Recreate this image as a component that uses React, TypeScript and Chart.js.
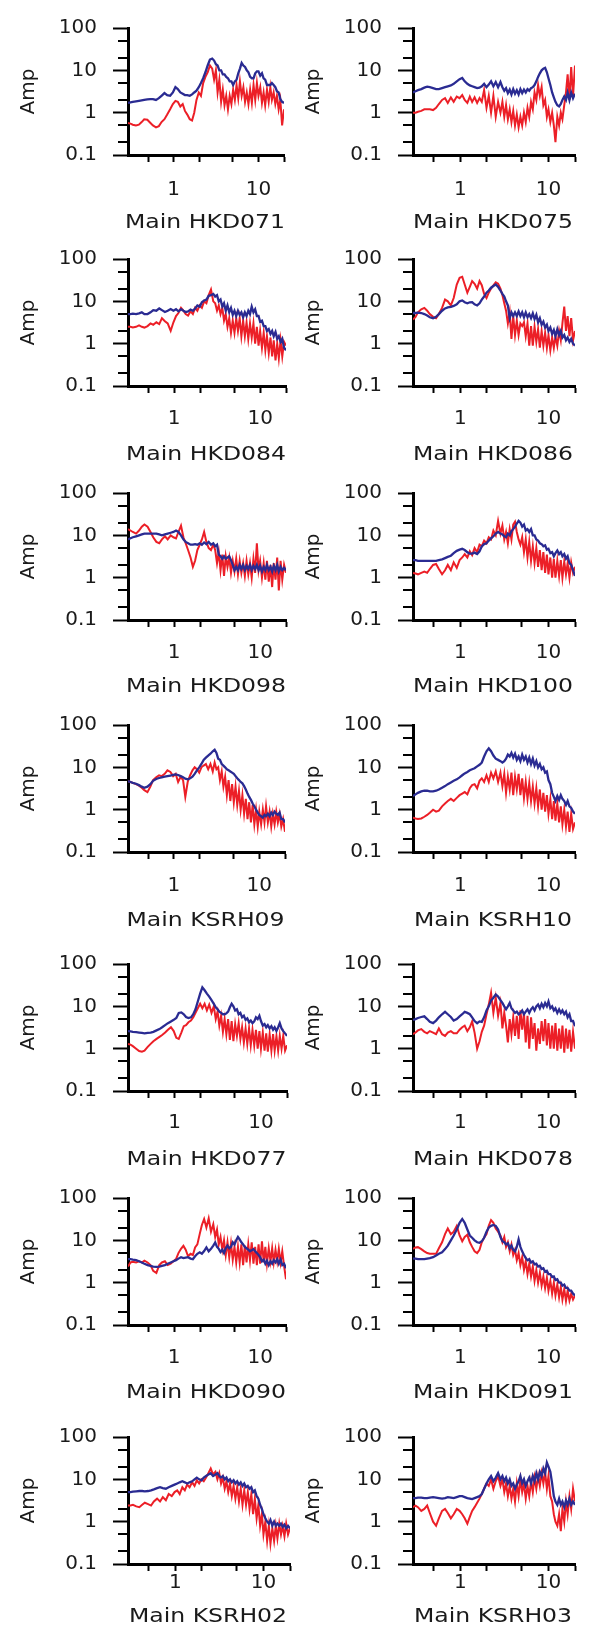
import React, { useEffect, useRef } from "react";
import { Chart, registerables } from "chart.js";
Chart.register(...registerables);

// ---------- data ----------
const FREQ = [
  0.29, 0.31, 0.33, 0.36, 0.39, 0.42, 0.45, 0.49, 0.53, 0.57, 0.62, 0.67, 0.72, 0.78, 0.84, 0.91, 0.98,
  1.05, 1.12, 1.2, 1.28, 1.36, 1.45, 1.55, 1.65, 1.75, 1.86, 1.98, 2.1, 2.23, 2.37, 2.52, 2.68, 2.85,
  3.0, 3.15, 3.3, 3.46, 3.63, 3.8, 3.98, 4.17, 4.37, 4.58, 4.8, 5.03, 5.27, 5.52, 5.78, 6.05, 6.34, 6.64, 6.95, 7.28,
  7.62, 7.98, 8.36, 8.75, 9.16, 9.59, 10, 10.5, 11, 11.5, 12, 12.6, 13.2, 13.8, 14.4, 15.1, 15.8, 16.5, 17.3, 18.1, 19, 20,
];

const Y_TICKS = [0.1, 1, 10, 100];
const Y_MINOR = [0.2, 0.5, 2, 5, 20, 50];
const X_TICKS = [0.5, 1, 2, 5, 10, 20];
const X_LABELED = [1, 10];

const HKD071_BLUE = [
  1.7, 1.75, 1.8, 1.85, 1.9, 1.95, 2.0, 2.05, 2.1, 2.1, 2.0, 2.2, 2.5, 2.9, 2.6, 2.5, 3.0,
  4.0, 3.6, 3.0, 2.8, 2.6, 2.6, 2.5, 2.7, 3.0, 3.3, 4.0, 5.0, 6.5, 9, 13, 18, 19,
  17, 14, 13, 10, 10, 8, 8, 7, 6.5, 5.5, 5.5, 4.5, 5.5, 6, 8.5, 11, 15, 13, 12, 10,
  9, 7, 6.5, 6.5, 8.5, 9.5, 9.5, 7.5, 8.5, 6.5, 6, 4.5, 4.5, 4.5, 5, 4.5, 4, 3.2, 3, 2.1, 1.8, 1.7,
];
const HKD071_RED = [
  0.57, 0.55, 0.52, 0.5, 0.52, 0.6, 0.7, 0.68, 0.58, 0.5, 0.45, 0.48, 0.6, 0.7, 0.9, 1.2, 1.6,
  1.9, 1.8, 1.4, 1.6, 1.1, 0.9, 0.7, 0.65, 1.0, 2.0, 3.0, 2.5, 5, 7, 9, 13, 11,
  6, 10, 3, 6, 1.8, 3.5, 1.5, 2.5, 1.2, 2.5, 1.6, 3.5, 2, 4.5, 2.2, 5.5, 2.5, 4, 1.8, 3,
  1.6, 3.5, 1.7, 4.5, 2, 5, 2.5, 4, 1.7, 3, 1.5, 3.5, 1.8, 4, 2, 3, 1.6, 2.5, 1.2, 2, 0.5, 1.2,
];

const HKD075_BLUE = [
  3.0, 3.2, 3.4, 3.6, 3.9, 4.1, 4.0, 3.8, 3.6, 3.6, 3.8, 4.0, 4.2, 4.4, 4.8, 5.5, 6.2,
  6.6, 5.5, 4.8, 4.4, 4.2, 4.0, 3.8, 3.9, 4.2, 4.8, 4.0, 4.6, 5.5, 4.2, 5.3, 4.0, 5.3,
  4.0, 3.3, 3.8, 2.9, 3.5, 2.7, 3.6, 2.8, 3.4, 2.7, 3.6, 2.9, 3.5, 3.0, 3.6, 3.3, 3.8, 4.0, 4.5, 5.5,
  7, 8.5, 10, 11, 11.5, 9, 6.5, 4.5, 3, 2.3, 1.8, 1.5, 1.4, 1.6, 2.0, 2.4, 2.0, 3.0, 2.0, 3.0, 2.2, 2.8,
];
const HKD075_RED = [
  1.0, 1.0, 1.05, 1.1, 1.2, 1.2, 1.2, 1.15, 1.3, 1.6, 2.0, 2.2, 1.7, 2.3, 1.8, 2.4, 2.2,
  2.6, 2.0, 1.7, 2.4, 1.8, 2.3, 1.7, 2.2, 1.8, 3.4, 1.3, 2.5, 1.0, 2.5, 0.8, 1.8, 1.0,
  1.8, 0.8, 1.5, 0.7, 1.2, 0.6, 1.1, 0.5, 0.9, 0.45, 0.8, 0.5, 1.0, 0.6, 1.3, 0.8, 1.8, 1.2, 3.0, 2.0,
  4.5, 2.5, 4.0, 1.5, 2.0, 0.8, 1.2, 0.6, 1.0, 0.5, 0.2, 0.8, 0.5, 1.0, 0.7, 1.5, 3, 8, 2, 12, 2.5, 13,
];

const HKD084_BLUE = [
  5.0, 5.0, 5.1, 5.0, 5.2, 5.5, 5.0, 5.0, 5.5, 6.2, 6.0, 6.8, 6.2, 5.6, 6.0, 6.6, 6.0,
  6.5, 5.8, 6.5, 6.0, 5.6, 5.8, 6.4, 6.0, 6.8, 8, 7.5, 9.5, 10.5, 11, 13.5, 14, 15,
  13, 14, 10, 11, 7.5, 9, 6, 8, 5.5, 7, 4.8, 6, 4.5, 6, 4.8, 5.5, 4.2, 5.5, 4.5, 6,
  5, 7.5, 5.5, 6.5, 4.5, 4.5, 3.3, 3.5, 2.6, 2.6, 2.0, 2.2, 1.7, 2.0, 1.5, 1.9, 1.3, 1.5, 1.1, 1.3, 0.8, 0.7,
];
const HKD084_RED = [
  2.5, 2.5, 2.4, 2.5, 2.7, 2.5, 2.4, 2.6, 3.0, 2.8, 3.2, 2.9, 4.0, 3.4, 3.0, 2.0, 3.2,
  4.5, 5.3, 7, 6, 5, 4.6, 5.8, 5, 7, 6, 8, 7, 10, 9, 14, 19, 10,
  9, 6, 8, 5, 7, 3.5, 5, 2.5, 4, 1.8, 3.5, 1.8, 4, 2, 4, 1.5, 3.5, 1.5, 3.2, 1.3,
  3.0, 1.4, 3.0, 1.0, 2.5, 0.9, 2.0, 0.8, 1.8, 0.7, 1.5, 0.6, 1.4, 0.5, 1.2, 0.4, 1.0, 0.45, 1.2, 0.5, 1.1, 0.9,
];

const HKD086_BLUE = [
  5.3, 5.3, 5.4, 5.3, 5.0, 4.6, 4.2, 4.0, 4.3, 5.0, 6.0, 6.8, 7.2, 7.4, 7.8, 8.5, 10,
  10.5, 9.5, 9, 9.5, 9.6, 8.5, 8, 9, 11, 13, 16, 18, 21, 23, 25, 22, 18,
  15, 13, 10, 8, 4, 5.5, 4.5, 5.5, 4.5, 5.8, 4.5, 5.5, 4.2, 5.5, 4.2, 5.0, 4.0, 5.2, 3.8, 4.8,
  3.2, 4.0, 2.8, 3.3, 2.4, 2.8, 2.0, 2.4, 1.7, 2.1, 1.5, 2.2, 1.6, 2.0, 1.4, 1.6, 1.2, 1.4, 1.1, 1.3, 1.0, 0.9,
];
const HKD086_RED = [
  3.7, 4.3, 5.5, 6.5, 7, 6, 5, 4.3, 4.0, 5, 7, 11, 10, 8, 12, 25, 36,
  38, 25, 16, 22, 30, 26, 20, 30, 24, 15, 12, 16, 20, 24, 28, 26, 20,
  14, 9, 6, 3, 5.5, 1.3, 4.5, 1.6, 3.5, 1.6, 3, 2.6, 3.2, 1.5, 3, 0.9, 2.6, 0.9, 2.5, 1.1,
  2.2, 0.8, 2, 0.9, 1.8, 0.8, 1.6, 0.7, 1.4, 0.8, 1.5, 0.9, 2, 1.2, 3, 7.5, 2, 4.5, 1.5, 4, 1.2, 2,
];

const HKD098_BLUE = [
  8, 8.5, 9, 9.5, 10, 10.5, 11, 11, 11, 11, 11, 10.5, 10, 10.5, 11, 11.5, 12,
  13, 12, 10, 8, 7, 6.5, 6, 6, 6.2, 6, 6.5, 6, 6.8, 6.2, 7, 6, 6.5,
  5.5, 6, 3.5, 3.2, 2.8, 3.2, 2.8, 3.0, 3.2, 2.6, 2.0, 1.5, 1.8, 1.5, 2.0, 1.6, 2.0, 1.5, 1.9, 1.6,
  2.0, 1.5, 1.9, 1.6, 2.0, 1.5, 1.9, 1.4, 1.8, 1.5, 2.0, 1.5, 1.8, 1.4, 1.9, 1.5, 2.0, 1.4, 1.8, 1.5, 1.7, 1.5,
];
const HKD098_RED = [
  14, 13, 12, 11, 13, 16, 18, 16, 12, 9, 7, 6.5, 8, 9.5, 8, 10, 9,
  8.5, 12, 17, 9, 6.5, 4.5, 3, 1.8, 2.5, 4.5, 6, 8, 12, 7, 5, 4.5, 6,
  4.5, 2.2, 4, 1.5, 3.5, 1.1, 3.2, 1.8, 3, 1.3, 2.5, 1.4, 2.8, 1.2, 2.5, 1.3, 2.2, 1.1, 2.5, 1.2,
  2.2, 1.0, 2.8, 1.3, 6.5, 1.5, 2.5, 1.0, 2.2, 0.9, 2.5, 0.8, 2.0, 0.6, 2.2, 0.9, 3, 0.5, 2.5, 0.9, 2.0, 1.3,
];

const HKD100_BLUE = [
  2.6, 2.6, 2.5, 2.5, 2.5, 2.5, 2.5, 2.5, 2.5, 2.6, 2.7, 2.9, 3.1, 3.3, 3.8, 4.3, 4.6,
  4.8, 4.5, 4.0, 3.7, 3.7, 3.9, 3.6, 4.2, 5.5, 6.2, 6.5, 7.5, 8.5, 9.5, 11, 12, 11,
  10.5, 9.5, 9, 11, 10, 12.5, 14, 16, 19, 22, 20, 16, 18, 13, 14, 12, 14, 10, 10, 8,
  7.5, 6.5, 6.2, 5.5, 5.8, 4.6, 4.8, 3.8, 4.0, 3.2, 3.8, 4.4, 3.6, 4.0, 3.2, 3.6, 2.8, 3.2, 2.2, 2.0, 1.5, 1.1,
];
const HKD100_RED = [
  1.3, 1.25, 1.2, 1.3, 1.4, 1.3, 1.6, 2.0, 2.1, 1.6, 1.2, 1.5, 2.0, 1.5, 2.3, 1.7, 2.6,
  3.0, 3.6, 3.0, 4.2, 3.4, 5.0, 4.0, 6.0, 5.5, 7.5, 6.5, 9, 8, 13, 10, 22, 11,
  17, 8, 12, 6.5, 14, 8, 18, 21, 12, 8, 6, 9, 4, 8, 3, 7, 2.5, 5.5, 2.2, 5,
  1.8, 4.5, 1.5, 4, 1.3, 3.5, 1.2, 3, 1.0, 2.8, 1.0, 2.5, 1.1, 2.6, 1.0, 2.4, 1.2, 2.2, 1.0, 2.3, 1.3, 1.8,
];

const KSRH09_BLUE = [
  4.7, 4.5, 4.3, 4.1, 3.8, 3.5, 3.3, 3.5, 4.0, 4.8, 5.3, 5.6, 5.8, 6.0, 6.2, 6.4, 6.6,
  6.8, 6.6, 6.2, 5.8, 5.4, 5.2, 5.5, 6.0, 7.0, 8.5, 10, 12, 15, 17, 19, 21, 24,
  26, 22, 16, 15, 12, 11, 10, 9, 8.5, 8, 7.5, 7, 6.2, 5.5, 5.0, 4.5, 4.2, 3.6, 3.0, 2.4,
  2.0, 1.7, 1.4, 1.2, 1.0, 0.85, 0.75, 0.7, 0.65, 0.75, 0.7, 0.8, 0.7, 0.85, 0.75, 0.9, 0.8, 0.75, 0.85, 0.6, 0.6, 0.5,
];
const KSRH09_RED = [
  4.7, 4.5, 4.3, 4.0, 3.7, 3.3, 2.9, 2.6, 3.5, 5.0, 5.8, 6.5, 6.2, 7, 8.5, 7.8, 6.2,
  7, 4.5, 6, 5, 2.0, 4.5, 6.5, 8.5, 10, 9, 7.5, 10, 11, 12, 9, 12, 8,
  13, 9, 10, 5, 8, 3.5, 6, 2.2, 5, 1.6, 4, 1.5, 3.5, 1.3, 2.8, 1.0, 2.2, 0.8, 1.8, 0.6,
  1.5, 0.5, 1.3, 0.45, 1.0, 0.4, 0.9, 0.45, 1.0, 0.5, 1.2, 0.5, 0.9, 0.4, 0.8, 0.45, 0.9, 0.5, 0.8, 0.4, 0.6, 0.3,
];

const KSRH10_BLUE = [
  2.1, 2.3, 2.5, 2.7, 2.8, 2.8, 2.7, 2.7, 2.8, 3.0, 3.3, 3.6, 4.0, 4.4, 4.8, 5.2, 5.8,
  6.5, 7.2, 7.8, 8.5, 9, 9.5, 10.5, 11.5, 13, 18, 24, 28, 24, 19, 16, 15, 14,
  13, 14, 16, 20, 18, 22, 17, 21, 15, 18, 14, 20, 15, 18, 13, 17, 12, 16, 11, 14,
  10, 12, 9, 10, 7.5, 8, 5, 4, 2.5, 2.0, 1.6, 2.1, 1.7, 2.2, 1.8, 1.6, 1.3, 1.6, 1.2, 1.1, 0.9, 0.8,
];
const KSRH10_RED = [
  0.65, 0.62, 0.6, 0.62, 0.68, 0.75, 0.85, 1.0, 0.9, 0.95, 1.2, 1.4, 1.6, 1.8, 1.6, 1.9, 2.2,
  2.4, 2.6, 2.3, 3.2, 3.8, 4.0, 3.2, 4.8, 5.5, 4.5, 6.5, 4.5, 7.5, 5.5, 8, 4.5, 7.5,
  3.6, 7, 2.5, 6, 3, 7.5, 2.2, 6, 3, 7, 2.2, 5.5, 1.9, 4.5, 1.8, 4.2, 1.6, 3.5, 1.4, 3.2,
  1.2, 3.0, 1.0, 2.5, 0.9, 2.2, 0.8, 1.8, 0.6, 1.6, 0.55, 1.4, 0.5, 1.2, 0.45, 1.0, 0.4, 0.9, 0.3, 0.8, 0.35, 0.5,
];

const HKD077_BLUE = [
  2.6, 2.55, 2.5, 2.45, 2.4, 2.35, 2.3, 2.35, 2.4, 2.5, 2.7, 2.9, 3.2, 3.6, 4.0, 4.4, 4.8,
  5.3, 7, 7.2, 6.5, 5.6, 5.3, 5.5, 6.5, 8.5, 13, 20, 28, 24, 20, 17, 14, 11.5,
  9.5, 8.5, 7.5, 7, 6.5, 6.5, 6.8, 7.5, 9.5, 11.5, 10, 8, 8.5, 6.5, 7, 5.5, 6, 4.8, 5.2, 4.2,
  4.6, 4.0, 4.4, 5.5, 5.0, 6.0, 4.5, 3.5, 3.8, 3.2, 3.6, 3.0, 3.4, 2.8, 3.2, 2.6, 3.2, 4.0, 3.0, 2.6, 2.3, 2.0,
];
const HKD077_RED = [
  1.3, 1.25, 1.15, 1.0, 0.88, 0.85, 0.9, 1.1, 1.3, 1.5, 1.7, 1.9, 2.1, 2.4, 2.8, 3.2, 2.6,
  1.8, 1.7, 2.4, 3.4, 3.6, 4.2, 4.6, 5.5, 7, 9, 11.5, 9, 11.5, 8, 11, 7, 10,
  5, 7.5, 3.5, 6, 2.5, 5, 2.2, 5, 1.6, 4.5, 1.5, 3.8, 2.0, 4, 1.7, 3.2, 1.4, 3, 1.3, 3,
  1.2, 2.8, 1.2, 2.8, 1.0, 2.6, 1.0, 2.4, 0.9, 2.3, 0.85, 2.2, 0.9, 2.2, 0.9, 2.0, 0.9, 2.0, 1.0, 2.0, 0.9, 1.2,
];

const HKD078_BLUE = [
  4.8, 5.0, 5.3, 5.6, 5.8, 5.0, 4.3, 4.0, 4.6, 5.5, 6.5, 7.4, 6.5, 5.6, 4.6, 5.0, 5.8,
  6.5, 7.4, 7.0, 6.5, 5.5, 4.5, 4.0, 4.4, 4.3, 5.5, 8, 10, 13.7, 16, 19, 17, 14,
  12, 10, 8.5, 10, 12, 9, 8, 7, 7.5, 6.5, 7, 8, 6.5, 7.5, 8.5, 7, 8.5, 9.5, 8, 10,
  11, 9, 11.5, 9.5, 12, 10, 13, 9, 10, 8, 9, 7, 8.5, 7, 8, 6.5, 7.5, 5.5, 6.5, 4.5, 4.5, 3.4,
];
const HKD078_RED = [
  2.2, 2.4, 2.7, 2.9, 2.5, 2.3, 2.6, 2.4, 2.2, 3.0, 2.2, 2.0, 2.4, 2.6, 2.3, 2.3, 2.8,
  3.2, 3.5, 2.6, 3.2, 4.4, 2.4, 1.0, 1.5, 2.5, 3.5, 6.5, 11, 21, 7, 16, 6, 12,
  3.0, 7, 3.5, 1.4, 5, 2.2, 5.5, 2, 6, 1.7, 8, 2.8, 7, 1.4, 6, 1.0, 5.5, 1.7, 4, 0.9,
  3, 1.3, 4.5, 1.5, 5, 1.2, 4, 1.0, 3.5, 1.0, 4.0, 0.9, 3.0, 1.0, 3.5, 0.8, 3.0, 1.0, 2.8, 0.85, 2.5, 1.0,
];

const HKD090_BLUE = [
  3.6, 3.6, 3.5, 3.4, 3.2, 3.0, 2.8, 2.6, 2.5, 2.4, 2.35, 2.4, 2.5, 2.6, 2.8, 3.0, 3.2,
  3.4, 3.7, 4.0, 3.8, 3.9, 4.0, 3.7, 3.6, 4.2, 4.8, 5.2, 4.8, 5.6, 6.8, 5.5, 6.3, 7.5,
  8.9, 7, 6.3, 5.3, 6, 5.0, 6.5, 7.5, 6.5, 7, 9, 8, 10, 12, 10.5, 9, 8, 7, 6.5, 6,
  5.5, 5.8, 6.2, 5.5, 5.0, 4.5, 4.0, 3.2, 3.5, 2.8, 3.3, 2.6, 3.2, 2.8, 3.4, 3.0, 3.6, 2.8, 3.5, 2.6, 2.8, 2.2,
];
const HKD090_RED = [
  2.4, 3.0, 3.1, 3.0, 3.2, 3.0, 3.3, 3.0, 2.6, 1.9, 1.7, 2.6, 3.0, 3.2, 2.6, 2.8, 3.2,
  3.6, 5, 6.3, 7.4, 6, 4.2, 4.8, 4.5, 6.8, 8, 14, 23, 32, 20, 33, 16, 24,
  12, 18, 8, 12, 6, 10, 4.5, 9, 4, 8.5, 3.5, 7, 3, 7, 3, 8, 2.6, 7.5, 3, 8,
  3.4, 9, 2.8, 7, 2.6, 8, 2.8, 9.5, 3, 7, 2.8, 6.5, 3.2, 6.5, 3.0, 6, 3.2, 6.3, 3.0, 5.5, 2.5, 1.2,
];

const HKD091_BLUE = [
  3.7, 3.7, 3.6, 3.6, 3.6, 3.7, 3.8, 4.0, 4.4, 4.8, 5.2, 6.2, 7.5, 10, 13, 18, 26,
  32, 26, 18, 13, 11.5, 10, 9, 8.8, 9.5, 11.5, 16, 20, 22, 23, 22, 18, 12,
  9.5, 9, 8, 8.5, 6.5, 7.5, 6, 5.5, 7, 10.5, 7, 5.5, 4.5, 3.8, 3.4, 3.6, 3.0, 3.2, 2.7, 2.8,
  2.4, 2.5, 2.1, 2.2, 1.8, 1.9, 1.6, 1.6, 1.35, 1.4, 1.15, 1.2, 1.0, 1.0, 0.85, 0.9, 0.75, 0.75, 0.65, 0.65, 0.55, 0.5,
];
const HKD091_RED = [
  6.3, 6.8, 6.9, 6.2, 5.5, 5, 4.8, 4.8, 4.8, 6.5, 9, 14, 19, 14, 16, 22, 13,
  9.5, 12, 13.5, 9, 7, 5.5, 5, 6, 9, 11.5, 14, 22, 30, 26, 19, 16, 13,
  9, 12, 7, 9, 5.5, 8, 4.5, 6, 3.4, 5, 2.6, 4, 2.0, 3.2, 1.6, 2.8, 1.4, 2.4, 1.1, 2.0,
  1.0, 1.7, 0.85, 1.4, 0.75, 1.3, 0.65, 1.1, 0.55, 1.0, 0.5, 0.9, 0.45, 0.8, 0.4, 0.7, 0.37, 0.65, 0.38, 0.55, 0.4, 0.5,
];

const KSRH02_BLUE = [
  5.0, 5.0, 5.1, 5.2, 5.3, 5.3, 5.2, 5.3, 5.5, 5.8, 6.2, 6.5, 6.2, 6.0, 6.5, 7.0, 7.5,
  8, 8.5, 9, 8.5, 8, 8.5, 9, 10, 11, 10, 9.5, 11, 12, 13, 14, 12, 13,
  14, 12, 11, 12, 10, 11, 9, 10, 8.5, 9.5, 8, 9, 7.5, 8.5, 7, 8, 6.5, 7, 6, 6.5,
  5, 5.5, 4, 3.5, 2.5, 2, 1.5, 1.2, 1.0, 0.9, 1.1, 0.8, 1.0, 0.8, 0.9, 0.8, 0.9, 0.75, 0.85, 0.7, 0.8, 0.7,
];
const KSRH02_RED = [
  2.4, 2.4, 2.5, 2.3, 2.2, 2.5, 2.8, 2.6, 2.4, 3.0, 3.5, 3.0, 3.8, 3.2, 4.5, 4.0, 5.0,
  5.5, 4.5, 6.5, 5.5, 7.5, 6.5, 8.5, 7, 9.5, 8, 10, 9, 11, 14, 18, 13, 15,
  10, 14, 8, 11, 6, 9, 5, 8, 4, 7, 3.5, 6.5, 3, 6, 2.5, 5.5, 2.5, 5, 2, 4.5,
  1.5, 3.5, 1.2, 2.5, 0.8, 1.5, 0.5, 1.0, 0.35, 0.8, 0.3, 0.7, 0.35, 0.8, 0.4, 0.9, 0.5, 0.8, 0.45, 0.9, 0.5, 0.7,
];

const KSRH03_BLUE = [
  3.6, 3.6, 3.7, 3.7, 3.6, 3.6, 3.7, 3.8, 3.7, 3.6, 3.5, 3.6, 3.8, 3.7, 3.6, 3.8, 4.0,
  4.0, 3.8, 3.6, 3.5, 3.4, 3.6, 3.8, 4.0, 4.5, 6, 8, 10, 12, 9, 11, 14, 10,
  12, 9, 11, 8, 10, 7, 8, 6, 7.5, 9, 12, 8, 10, 7, 9, 11, 8, 12, 9, 14,
  10, 15, 12, 18, 14, 25, 20, 15, 8, 4, 3, 2.5, 3.5, 2.5, 3, 2.2, 3.2, 2.5, 3.5, 2.5, 3, 2.5,
];
const KSRH03_RED = [
  2.2, 2.4, 2.2, 1.8, 2.0, 2.4, 1.6, 1.0, 0.8, 1.2, 1.8, 2.0, 1.6, 1.2, 1.5, 2.0, 1.8,
  1.5, 1.2, 0.9, 1.3, 1.8, 2.2, 2.8, 3.5, 4.5, 6, 8, 7, 10, 6, 9, 12, 7,
  10, 5, 8, 4, 7, 3.5, 6, 3, 8, 4, 10, 5, 8, 3.5, 7, 4, 9, 5, 11, 6,
  12, 7, 14, 8, 15, 6, 12, 4, 3, 1.5, 1, 0.8, 1.5, 0.6, 2, 1, 3, 1.5, 4, 2, 6, 3,
];

const PANELS = [
  { title: "Main HKD071", blue: HKD071_BLUE, red: HKD071_RED },
  { title: "Main HKD075", blue: HKD075_BLUE, red: HKD075_RED },
  { title: "Main HKD084", blue: HKD084_BLUE, red: HKD084_RED },
  { title: "Main HKD086", blue: HKD086_BLUE, red: HKD086_RED },
  { title: "Main HKD098", blue: HKD098_BLUE, red: HKD098_RED },
  { title: "Main HKD100", blue: HKD100_BLUE, red: HKD100_RED },
  { title: "Main KSRH09", blue: KSRH09_BLUE, red: KSRH09_RED },
  { title: "Main KSRH10", blue: KSRH10_BLUE, red: KSRH10_RED },
  { title: "Main HKD077", blue: HKD077_BLUE, red: HKD077_RED },
  { title: "Main HKD078", blue: HKD078_BLUE, red: HKD078_RED },
  { title: "Main HKD090", blue: HKD090_BLUE, red: HKD090_RED },
  { title: "Main HKD091", blue: HKD091_BLUE, red: HKD091_RED },
  { title: "Main KSRH02", blue: KSRH02_BLUE, red: KSRH02_RED },
  { title: "Main KSRH03", blue: KSRH03_BLUE, red: KSRH03_RED },
];

// ---------- layout & style ----------
const ROW_TOP = [22, 253, 487, 719, 958, 1192, 1431];
// distance below the x axis of the tick-label centre and of the panel caption centre, per row
const LABEL_GAP = [35, 33, 33, 34, 32, 33, 18];
const TITLE_GAP = [66, 67, 65, 67, 67, 66, 51];
const COL_X = [0, 285];
const COL_W = [300, 306];
const CANVAS_H = 236;
const PLOT_TOP = 22;
const AXIS_W = 128;
const PLOT_W = 162;
const PLOT_H = 133;
const X_AXIS_H = 60;
const FONT = '"DejaVu Sans", sans-serif';
const FONT_SIZE = 20;
const TEXT = "#1a1a1a";
const AXIS = "#000000";
const RED = "#ec1f27";
const BLUE = "#2a2b92";

function Panel({ title, blue, red, left, top, width, labelGap, titleGap }: any) {
  const ref = useRef<HTMLCanvasElement>(null);
  useEffect(() => {
    const canvas = ref.current;
    if (!canvas) return;
    const font = { family: FONT, size: FONT_SIZE };
    const tickLenX = 7;
    const xPad = Math.max(0, labelGap - tickLenX - (FONT_SIZE * 1.2) / 2);

    const minorTicks = {
      id: "minorTicks",
      afterDraw(chart: any) {
        const s = chart.scales.y;
        const ctx = chart.ctx;
        ctx.save();
        ctx.strokeStyle = AXIS;
        ctx.lineWidth = 2;
        ctx.beginPath();
        for (const v of Y_MINOR) {
          const p = Math.round(s.getPixelForValue(v));
          ctx.moveTo(s.right - 10, p);
          ctx.lineTo(s.right - 1, p);
        }
        ctx.stroke();
        ctx.restore();
      },
    };
    const panelTitle = {
      id: "panelTitle",
      afterDraw(chart: any) {
        const { ctx, chartArea } = chart;
        ctx.save();
        ctx.font = `19px ${FONT}`;
        ctx.fillStyle = TEXT;
        ctx.textAlign = "center";
        ctx.textBaseline = "alphabetic";
        ctx.translate((chartArea.left + chartArea.right) / 2 - 1, chartArea.bottom + titleGap + 7);
        ctx.scale(1.24, 1);
        ctx.fillText(title, 0, 0);
        ctx.restore();
      },
    };

    const chart = new Chart(canvas, {
      type: "line",
      data: {
        datasets: [
          {
            label: "blue",
            data: FREQ.map((f, i) => ({ x: f, y: blue[i] })),
            borderColor: BLUE,
            borderWidth: 2.3,
            pointRadius: 0,
            tension: 0,
          },
          {
            label: "red",
            data: FREQ.map((f, i) => ({ x: f, y: red[i] })),
            borderColor: RED,
            borderWidth: 2,
            pointRadius: 0,
            tension: 0,
          },
        ],
      },
      options: {
        responsive: false,
        maintainAspectRatio: false,
        animation: false,
        events: [],
        layout: {
          padding: {
            left: 0,
            top: PLOT_TOP,
            right: width - AXIS_W - PLOT_W,
            bottom: CANVAS_H - PLOT_TOP - PLOT_H - X_AXIS_H,
          },
        },
        plugins: { legend: { display: false }, tooltip: { enabled: false }, title: { display: false } },
        scales: {
          x: {
            type: "logarithmic",
            position: "bottom",
            min: 0.29,
            max: 20,
            afterBuildTicks: (s: any) => {
              s.ticks = X_TICKS.map((v) => ({ value: v }));
            },
            afterFit: (s: any) => {
              s.height = X_AXIS_H;
            },
            ticks: {
              autoSkip: false,
              maxRotation: 0,
              minRotation: 0,
              padding: xPad,
              font,
              color: TEXT,
              callback: (v: any) => (X_LABELED.includes(Number(v)) ? String(v) : ""),
            },
            grid: {
              drawOnChartArea: false,
              drawTicks: true,
              tickLength: tickLenX,
              tickWidth: 2,
              tickColor: AXIS,
              color: AXIS,
            },
            border: { display: true, color: AXIS, width: 3 },
          },
          y: {
            type: "logarithmic",
            position: "left",
            min: 0.1,
            max: 100,
            afterBuildTicks: (s: any) => {
              s.ticks = Y_TICKS.map((v) => ({ value: v }));
            },
            afterFit: (s: any) => {
              s.width = AXIS_W;
            },
            ticks: {
              padding: 16,
              font,
              color: TEXT,
              callback: (v: any) => String(v),
            },
            grid: {
              drawOnChartArea: false,
              drawTicks: true,
              tickLength: 15,
              tickWidth: 2,
              tickColor: AXIS,
              color: AXIS,
            },
            border: { display: true, color: AXIS, width: 3 },
            title: {
              display: true,
              text: "Amp",
              font,
              color: TEXT,
              padding: { top: 16.5, bottom: 0 },
            },
          },
        },
      } as any,
      plugins: [minorTicks, panelTitle],
    } as any);
    return () => chart.destroy();
  }, [title, blue, red, width, labelGap, titleGap]);

  return (
    <canvas
      ref={ref}
      width={width}
      height={CANVAS_H}
      style={{ position: "absolute", left, top, width, height: CANVAS_H, display: "block" }}
    />
  );
}

export default function App() {
  return (
    <div
      style={{
        position: "absolute",
        left: 0,
        top: 0,
        width: 591,
        height: 1635,
        overflow: "hidden",
        background: "#ffffff",
      }}
    >
      {PANELS.map((p, i) => {
        const r = Math.floor(i / 2);
        const c = i % 2;
        return (
          <Panel
            key={p.title}
            title={p.title}
            blue={p.blue}
            red={p.red}
            left={COL_X[c]}
            top={ROW_TOP[r] - PLOT_TOP}
            width={COL_W[c]}
            labelGap={LABEL_GAP[r]}
            titleGap={TITLE_GAP[r]}
          />
        );
      })}
    </div>
  );
}
